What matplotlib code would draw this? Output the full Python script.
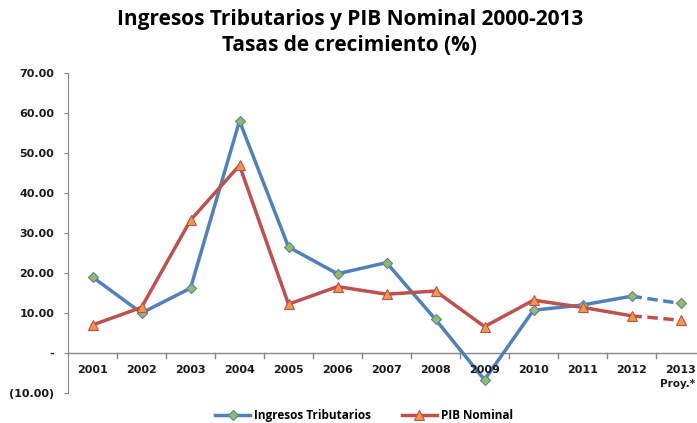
import matplotlib
matplotlib.use("Agg")
import matplotlib.pyplot as plt
from matplotlib.lines import Line2D

years = ["2001", "2002", "2003", "2004", "2005", "2006", "2007",
         "2008", "2009", "2010", "2011", "2012", "2013"]
proj_note = "Proy.*"
ingresos = [19.0, 10.0, 16.2, 58.0, 26.5, 19.8, 22.6, 8.4, -6.7, 10.7, 12.0, 14.2, 12.4]
pib = [7.0, 11.4, 33.2, 46.9, 12.2, 16.6, 14.7, 15.5, 6.6, 13.2, 11.4, 9.3, 8.2]

BLUE = "#4F81BD"
RED = "#C0504D"
GREEN = "#9BBB59"
ORANGE = "#F79646"

fig = plt.figure(figsize=(6.97, 4.23), dpi=100)
W, H = 697, 423
ax = fig.add_axes([68 / W, 1 - 393 / H, (705 - 68) / W, 320 / H])

x = list(range(len(years)))
n = len(years) - 1  # last point is the projection, drawn dashed

ax.plot(x[:n], ingresos[:n], color=BLUE, lw=2.5, zorder=3)
ax.plot(x[n - 1:], ingresos[n - 1:], color=BLUE, lw=2.5, ls=(0, (3, 1.6)), zorder=3)
ax.plot(x, ingresos, ls="none", marker="D", ms=5, mfc=GREEN, mec=BLUE, mew=0.8, zorder=4)

ax.plot(x[:n], pib[:n], color=RED, lw=2.5, zorder=3)
ax.plot(x[n - 1:], pib[n - 1:], color=RED, lw=2.5, ls=(0, (3, 1.6)), zorder=3)
ax.plot(x, pib, ls="none", marker="^", ms=7, mfc=ORANGE, mec=RED, mew=0.8, zorder=4)

ax.set_xlim(-0.5, len(years) - 0.5)
ax.set_ylim(-10, 70)

for s in ["top", "right", "bottom"]:
    ax.spines[s].set_visible(False)
ax.spines["left"].set_color("#868686")
ax.axhline(0, color="#868686", lw=1, zorder=2)

# y axis
yt = list(range(-10, 80, 10))
ax.set_yticks(yt)
ylab = []
for v in yt:
    if v == 0:
        ylab.append("-")
    elif v < 0:
        ylab.append("(%.2f)" % abs(v))
    else:
        ylab.append("%.2f" % v)
ax.set_yticklabels(ylab, fontsize=8, fontweight="bold", color="#1a1a1a")
ax.tick_params(axis="y", direction="out", length=3, color="#868686", pad=7)

# x axis: ticks between categories at y=0, labels below the zero line
ax.set_xticks([])
for xi in range(1, len(years)):
    ax.plot([xi - 0.5, xi - 0.5], [0, -1.2], color="#868686", lw=1, zorder=2)
for xi, lab in enumerate(years):
    ax.text(xi, -3.0, lab, ha="center", va="top", fontsize=8, fontweight="bold",
            color="#1a1a1a")
ax.text(len(years) - 1.05, -6.6, proj_note, ha="center", va="top", fontsize=7.5,
        fontweight="bold", color="#1a1a1a")

fig.text(0.502, 0.955, "Ingresos Tributarios y PIB Nominal 2000-2013",
         ha="center", va="center", fontsize=15, fontweight="bold", family="Open Sans")
fig.text(0.502, 0.893, "Tasas de crecimiento (%)",
         ha="center", va="center", fontsize=15, fontweight="bold", family="Open Sans")

handles = [
    Line2D([], [], color=BLUE, lw=2.5, marker="D", ms=5, mfc=GREEN, mec=BLUE, mew=0.8),
    Line2D([], [], color=RED, lw=2.5, marker="^", ms=7, mfc=ORANGE, mec=RED, mew=0.8),
]
fig.legend(handles, ["Ingresos Tributarios", "PIB Nominal"], loc="center",
           bbox_to_anchor=(0.522, 0.018), ncol=2, frameon=False,
           prop={"size": 8.5, "weight": "bold", "family": "Open Sans"},
           handlelength=3.0, columnspacing=2.6, handletextpad=0.3)

fig.savefig("out.png", dpi=100)
